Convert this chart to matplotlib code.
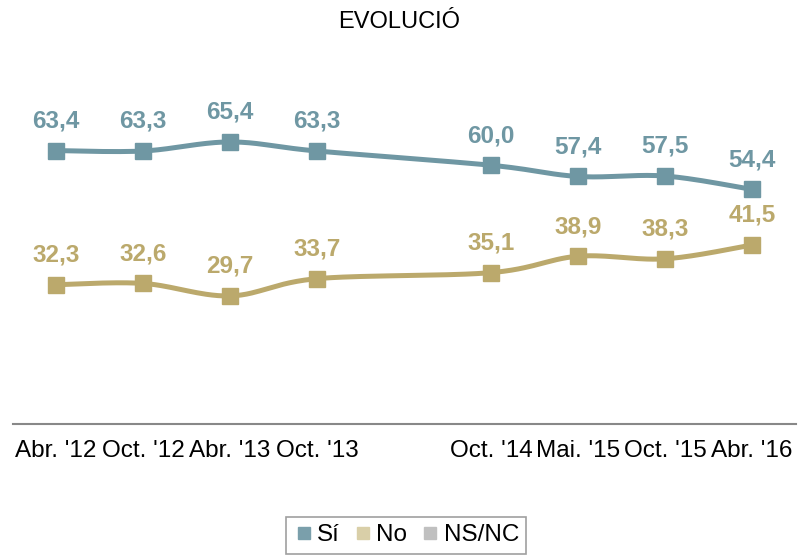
import numpy as np
import matplotlib
matplotlib.use("Agg")
import matplotlib.pyplot as plt
from matplotlib.lines import Line2D

categories = ["Abr. '12", "Oct. '12", "Abr. '13", "Oct. '13", "", "Oct. '14", "Mai. '15", "Oct. '15", "Abr. '16"]
si_values = [63.4, 63.3, 65.4, 63.3, None, 60.0, 57.4, 57.5, 54.4]
no_values = [32.3, 32.6, 29.7, 33.7, None, 35.1, 38.9, 38.3, 41.5]
series_names = ["Sí", "No", "NS/NC"]

c_si = "#6f97a3"
c_no = "#bba96c"
c_si_leg = "#7a9fab"
c_no_leg = "#d9cfa8"
c_ns_leg = "#c0c0c0"

plt.rcParams['font.family'] = ['Liberation Sans', 'DejaVu Sans']

def smooth(xs, ys, n=30):
    xs = np.asarray(xs, float); ys = np.asarray(ys, float)
    px, py = [], []
    for i in range(len(xs) - 1):
        x0 = xs[i - 1] if i > 0 else xs[i]
        y0 = ys[i - 1] if i > 0 else ys[i]
        x3 = xs[i + 2] if i + 2 < len(xs) else xs[i + 1]
        y3 = ys[i + 2] if i + 2 < len(xs) else ys[i + 1]
        x1, y1, x2, y2 = xs[i], ys[i], xs[i + 1], ys[i + 1]
        t = 0.5 / 3
        cx1 = x1 + (x2 - x0) * t; cy1 = y1 + (y2 - y0) * t
        cx2 = x2 - (x3 - x1) * t; cy2 = y2 - (y3 - y1) * t
        s = np.linspace(0, 1, n)
        bx = (1-s)**3*x1 + 3*(1-s)**2*s*cx1 + 3*(1-s)*s**2*cx2 + s**3*x2
        by = (1-s)**3*y1 + 3*(1-s)**2*s*cy1 + 3*(1-s)*s**2*cy2 + s**3*y2
        px.extend(bx); py.extend(by)
    return px, py

fig = plt.figure(figsize=(7.98, 5.57), dpi=100)
ax = fig.add_axes([12.5/798, (557-424)/557, 783/798, (424-79)/557])

for vals, col in [(si_values, c_si), (no_values, c_no)]:
    xs = [i for i, v in enumerate(vals) if v is not None]
    ys = [v for v in vals if v is not None]
    sx, sy = smooth(xs, ys)
    ax.plot(sx, sy, color=col, lw=3.6, solid_capstyle='round', zorder=2)
    ax.plot(xs, ys, 's', color=col, markersize=11, zorder=3)
    for x, y in zip(xs, ys):
        ax.annotate(f"{y:.1f}".replace('.', ','), (x, y), xytext=(0, 13),
                    textcoords='offset points', ha='center', va='bottom',
                    fontsize=17.5, fontweight='bold', color=col)

ax.set_xlim(-0.5, len(categories) - 0.5)
ax.set_ylim(0, 80)
ax.set_xticks(range(len(categories)))
ax.set_xticklabels(categories, fontsize=17.5)
ax.tick_params(axis='x', length=0, pad=11.5)
ax.set_yticks([])
for s in ['top', 'right', 'left']:
    ax.spines[s].set_visible(False)
ax.spines['bottom'].set_color('#888888')
ax.spines['bottom'].set_linewidth(1.5)

fig.text(0.5, 1 - 22/557, "EVOLUCIÓ", ha='center', va='center', fontsize=17)

handles = [Line2D([], [], marker='s', ls='none', color=c, markersize=8.5)
           for c in [c_si_leg, c_no_leg, c_ns_leg]]
leg = fig.legend(handles, series_names, loc='upper center', bbox_to_anchor=(406/798, 1 - 517/557),
                 borderaxespad=0,
                 ncol=3, frameon=True, fancybox=False, fontsize=17.5, handletextpad=0.1,
                 columnspacing=0.5, handlelength=0.9, borderpad=0.3)
leg.get_frame().set_edgecolor('#888888')
leg.get_frame().set_linewidth(1.2)

fig.savefig("out.png", dpi=100)
